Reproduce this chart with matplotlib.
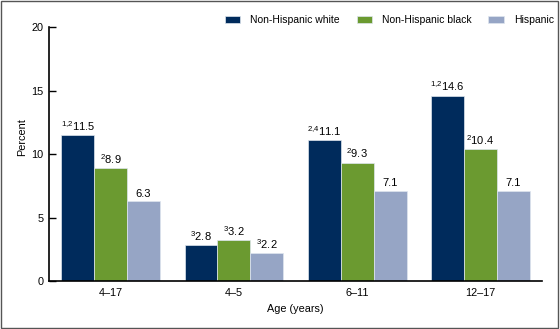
import matplotlib
matplotlib.use("Agg")
import matplotlib.pyplot as plt
import numpy as np
from matplotlib.patches import Rectangle

plt.rcParams['font.family'] = ['Liberation Sans', 'DejaVu Sans']
plt.rcParams['mathtext.fontset'] = 'custom'
plt.rcParams['mathtext.rm'] = 'Liberation Sans'
plt.rcParams['mathtext.default'] = 'regular'

ages = ['4\u201317', '4\u20135', '6\u201311', '12\u201317']
series = ['Non-Hispanic white', 'Non-Hispanic black', 'Hispanic']
white = [11.5, 2.8, 11.1, 14.6]
black = [8.9, 3.2, 9.3, 10.4]
hispanic = [6.3, 2.2, 7.1, 7.1]
white_notes = ['1,2', '3', '2,4', '1,2']
black_notes = ['2', '3', '2', '2']
hispanic_notes = ['', '3', '', '']

colors = ['#002b5c', '#6b9a30', '#96a5c5']
fs = 7.8

fig = plt.figure(figsize=(5.6, 3.29), dpi=100)
ax = fig.add_axes([0.0875, 0.146, 0.8805, 0.771])

x = np.arange(len(ages))
w = 0.267
data = [white, black, hispanic]
notes = [white_notes, black_notes, hispanic_notes]
for i in range(3):
    pos = x + (i - 1) * w
    ax.bar(pos, data[i], w, color=colors[i], edgecolor='#dfe6ef', lw=0.5,
           label=series[i], zorder=2)
    for p, v, n in zip(pos, data[i], notes[i]):
        lab = (r'$^{\mathregular{%s}}$' % n.replace(',', '{,}') if n else '') + '%.1f' % v
        ax.text(p, v + 0.2, lab, ha='center', va='bottom', fontsize=fs + 0.2)

ax.set_xlim(-0.5, 3.5)
ax.set_ylim(0, 20)
ax.set_yticks([0, 5, 10, 15, 20])
ax.set_xticks(x)
ax.set_xticklabels(ages)
ax.tick_params(axis='x', length=0, labelsize=fs, pad=5)
ax.tick_params(axis='y', direction='in', length=5, width=1, labelsize=fs, pad=4)
for s in ['top', 'right']:
    ax.spines[s].set_visible(False)
ax.spines['left'].set_linewidth(1.2)
ax.spines['bottom'].set_linewidth(1.2)
ax.set_ylabel('Percent', fontsize=fs, va='center')
ax.yaxis.set_label_coords(-0.055, 0.566)
ax.set_xlabel('Age (years)', fontsize=fs, va='center')
ax.xaxis.set_label_coords(0.5, -0.112)

ax.legend(loc='center right', bbox_to_anchor=(1.024, 1.029), ncol=3, frameon=False,
          fontsize=7.5, handlelength=1.5, handleheight=0.72, columnspacing=1.6,
          handletextpad=0.95, borderpad=0, borderaxespad=0)

fig.patches.append(Rectangle((0.002, 0.003), 0.995, 0.993, transform=fig.transFigure,
                             fill=False, edgecolor='#555555', lw=1))

fig.savefig('out.png', dpi=100)
